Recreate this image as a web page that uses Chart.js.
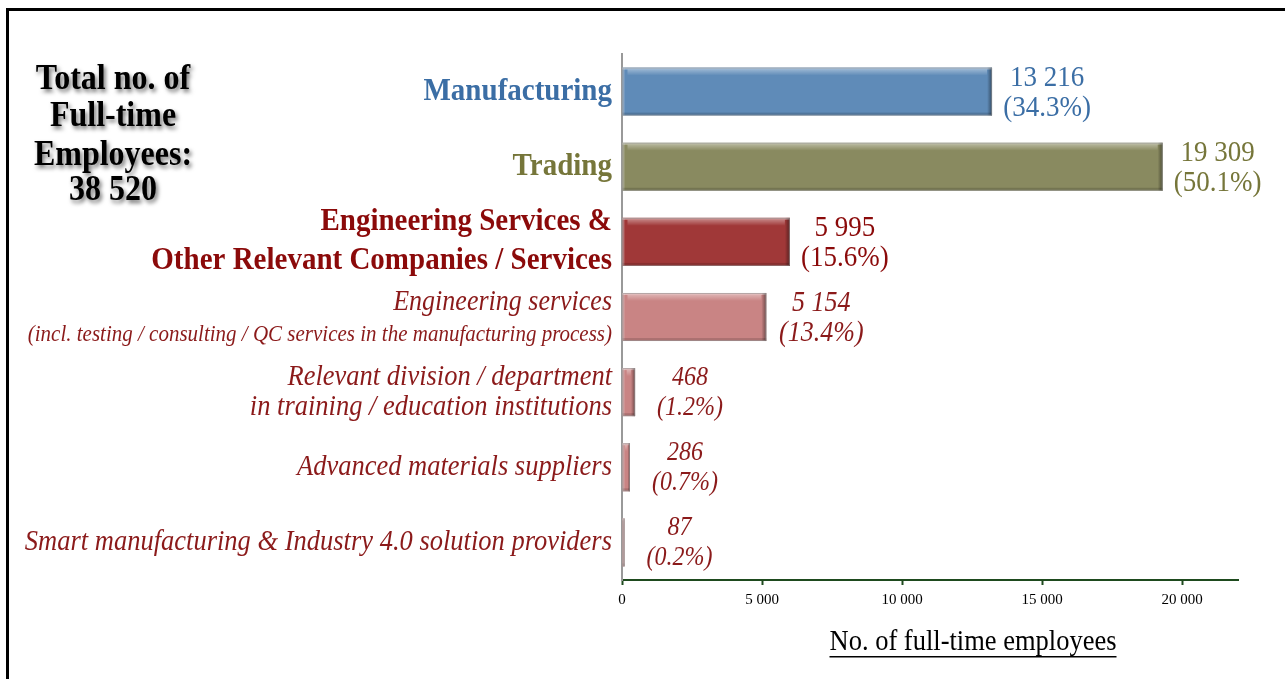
<!DOCTYPE html>
<html>
<head>
<meta charset="utf-8">
<script src="https://cdn.jsdelivr.net/npm/chart.js@4.4.1/dist/chart.umd.min.js"></script>
<style>
  html, body { margin: 0; padding: 0; background: #fff; overflow: hidden; }
  canvas { display: block; }
</style>
</head>
<body>
<canvas id="myChart" width="1285" height="679"></canvas>
<script>
// data
var categories = [
    ['Manufacturing'],
    ['Trading'],
    ['Engineering Services &', 'Other Relevant Companies / Services'],
    ['Engineering services', '(incl. testing / consulting / QC services in the manufacturing process)'],
    ['Relevant division / department', 'in training / education institutions'],
    ['Advanced materials suppliers'],
    ['Smart manufacturing & Industry 4.0 solution providers']
]
var employees = [13216, 19309, 5995, 5154, 468, 286, 87]
var shares = ['34.3%', '50.1%', '15.6%', '13.4%', '1.2%', '0.7%', '0.2%']
var totalEmployees = 38520
var xTicks = [0, 5000, 10000, 15000, 20000]

// look of each row
var barColors = ['#5f8bb8', '#898a60', '#a03838', '#c98484', '#c98484', '#c98484', '#c98484']
var textColors = ['#3b6ea5', '#76763a', '#8b0a0a', '#8b1a1a', '#8b1a1a', '#8b1a1a', '#8b1a1a']
var serif = '"Liberation Serif", "Times New Roman", serif'
// fonts per label line [first line, second line]
var labelFonts = [
    ['bold 29px '], ['bold 29px '],
    ['bold 29px ', 'bold 29px '],
    ['italic 26px ', 'italic 21px '],
    ['italic 26.5px ', 'italic 26.5px '],
    ['italic 26.5px '], ['italic 26.5px ']
]
var labelOffsets = [[0], [0], [-20, 19], [-15, 18], [-15, 15], [0], [0]]
var valueFonts = ['27px ', '27px ', '27px ', 'italic 26px ', 'italic 24px ', 'italic 24px ', 'italic 24px ']
var stretch = 1.12 // text is drawn a little taller than wide

function fmt(n) { // 13216 -> "13 216"
    return String(n).replace(/\B(?=(\d{3})+(?!\d))/g, ' ')
}

function tallText(ctx, txt, x, y) {
    ctx.save()
    ctx.translate(x, y)
    ctx.scale(1, stretch)
    ctx.fillText(txt, 0, 0)
    ctx.restore()
}

function shade(ctx, el) { // bevel look on each bar
    var p = el.getProps(['x', 'y', 'base', 'height'], true)
    var left = p.base, right = p.x, top = p.y - p.height / 2, h = p.height
    var w = right - left
    if (w < 1) return
    var e = Math.min(5, w / 3)
    ctx.save()
    // light rim on top / left
    ctx.fillStyle = 'rgba(255,255,255,0.45)'
    ctx.fillRect(left, top, w, 2)
    ctx.fillStyle = 'rgba(255,255,255,0.25)'
    ctx.fillRect(left, top, Math.min(2, w), h)
    // highlight stripe under the top edge
    var g = ctx.createLinearGradient(0, top + 2, 0, top + 8)
    g.addColorStop(0, 'rgba(255,255,255,0.35)')
    g.addColorStop(1, 'rgba(255,255,255,0)')
    ctx.fillStyle = g
    ctx.fillRect(left + e, top + 2, w - 2 * e, 6)
    // darker right and bottom edge
    var r = ctx.createLinearGradient(right - e, 0, right, 0)
    r.addColorStop(0, 'rgba(0,0,0,0)')
    r.addColorStop(1, 'rgba(0,0,0,0.45)')
    ctx.fillStyle = r
    ctx.fillRect(right - e, top, e, h)
    ctx.fillStyle = 'rgba(0,0,0,0.15)'
    ctx.fillRect(left, top + h - 3, w, 3)
    ctx.strokeStyle = 'rgba(150,150,150,0.6)'
    ctx.lineWidth = 1
    ctx.strokeRect(left + 0.5, top + 0.5, w - 1, h - 1)
    ctx.restore()
}

var decor = {
    id: 'decor',
    afterDatasetsDraw: function (chart) {
        var ctx = chart.ctx
        var yScale = chart.scales.y
        var meta = chart.getDatasetMeta(0)
        meta.data.forEach(function (el) { shade(ctx, el) })

        ctx.save()
        ctx.textBaseline = 'middle'
        // category names, right aligned left of the axis
        ctx.textAlign = 'right'
        categories.forEach(function (lines, i) {
            var yc = yScale.getPixelForValue(i)
            ctx.fillStyle = textColors[i]
            lines.forEach(function (txt, j) {
                ctx.font = labelFonts[i][j] + serif
                tallText(ctx, txt, 612, yc + labelOffsets[i][j])
            })
        })
        // value and share next to each bar
        ctx.textAlign = 'center'
        meta.data.forEach(function (el, i) {
            var p = el.getProps(['x', 'y'], true)
            var cx = p.x + 55
            ctx.fillStyle = textColors[i]
            ctx.font = valueFonts[i] + serif
            tallText(ctx, fmt(employees[i]), cx, p.y - 14)
            tallText(ctx, '(' + shares[i] + ')', cx, p.y + 16)
        })

        // axis title, underlined
        ctx.fillStyle = '#000'
        ctx.font = '26.5px ' + serif
        var title = 'No. of full-time employees'
        var tw = ctx.measureText(title).width
        tallText(ctx, title, 973, 642)
        ctx.fillRect(973 - tw / 2, 656, tw, 1.5)

        // total on the left with drop shadow
        ctx.font = 'bold 32px ' + serif
        ctx.shadowColor = 'rgba(0,0,0,0.55)'
        ctx.shadowBlur = 4
        ctx.shadowOffsetX = 2
        ctx.shadowOffsetY = 3
        var total = ['Total no. of', 'Full-time', 'Employees:', fmt(totalEmployees)]
        var ty = [80, 117, 156, 191]
        total.forEach(function (t, k) { tallText(ctx, t, 113, ty[k]) })
        ctx.restore()

        // frame round the figure
        ctx.save()
        ctx.strokeStyle = '#000'
        ctx.lineWidth = 3
        ctx.strokeRect(7.5, 9.5, 1400, 800)
        ctx.restore()
    }
}

var ctx = document.getElementById('myChart')
var myChart = new Chart(ctx, {
    type: 'bar',
    data: {
        labels: categories.map(function (c) { return c.join(' ') }),
        datasets: [{
            data: employees,
            backgroundColor: barColors,
            borderWidth: 0,
            categoryPercentage: 1,
            barPercentage: 0.64
        }]
    },
    options: {
        indexAxis: 'y',
        responsive: false,
        animation: false,
        events: [],
        layout: { padding: { top: 54, right: 47, left: 0, bottom: 0 } },
        plugins: { legend: { display: false }, tooltip: { enabled: false } },
        scales: {
            x: {
                min: 0,
                max: 22000,
                afterBuildTicks: function (scale) {
                    scale.ticks = xTicks.map(function (v) { return { value: v } })
                },
                afterFit: function (scale) { scale.height = 99 },
                ticks: {
                    padding: 6,
                    color: '#000',
                    font: { family: serif, size: 15 },
                    callback: function (v) { return fmt(v) }
                },
                grid: { drawOnChartArea: false, tickLength: 5, tickWidth: 2, color: '#1e4a1e' },
                border: { color: '#1e4a1e', width: 2 }
            },
            y: {
                afterFit: function (scale) { scale.width = 622 },
                ticks: { display: false },
                grid: { display: false },
                border: { color: '#999', width: 2 }
            }
        }
    },
    plugins: [decor]
})
</script>
</body>
</html>
